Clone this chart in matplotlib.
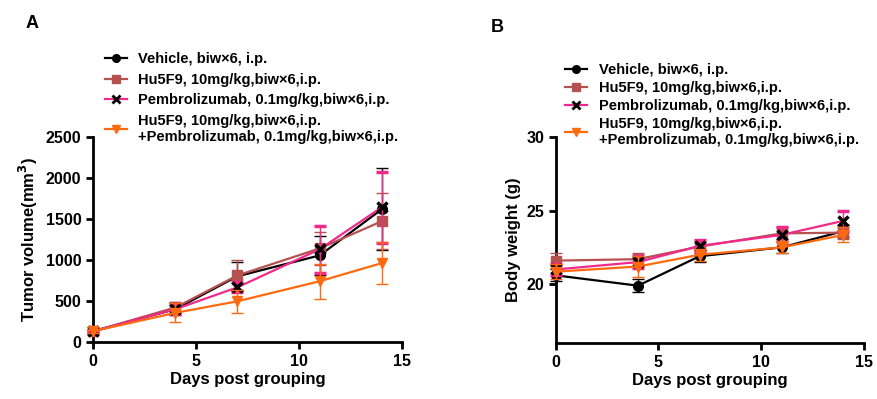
import matplotlib
matplotlib.use('Agg')
import matplotlib.pyplot as plt
from matplotlib.lines import Line2D

plt.rcParams['font.family'] = ['Liberation Sans', 'DejaVu Sans']
plt.rcParams['font.weight'] = 'bold'

days = [0, 4, 7, 11, 14]
labels = ['Vehicle, biw\u00d76, i.p.',
          'Hu5F9, 10mg/kg,biw\u00d76,i.p.',
          'Pembrolizumab, 0.1mg/kg,biw\u00d76,i.p.',
          'Hu5F9, 10mg/kg,biw\u00d76,i.p.\n+Pembrolizumab, 0.1mg/kg,biw\u00d76,i.p.']

# tumor volume (mm3), mean and error
tv_vehicle = [130, 400, 800, 1055, 1615]
tv_hu5f9 = [130, 420, 810, 1140, 1470]
tv_pembro = [130, 400, 665, 1130, 1640]
tv_combo = [130, 355, 495, 740, 960]
tv_vehicle_err = [20, 70, 170, 240, 500]
tv_hu5f9_err = [20, 70, 190, 200, 340]
tv_pembro_err = [20, 60, 60, 285, 430]
tv_combo_err = [20, 115, 140, 215, 255]

# body weight (g)
bw_vehicle = [20.6, 19.9, 21.9, 22.5, 23.6]
bw_hu5f9 = [21.6, 21.7, 22.55, 23.45, 23.5]
bw_pembro = [21.0, 21.5, 22.6, 23.35, 24.3]
bw_combo = [20.85, 21.2, 22.0, 22.5, 23.35]
bw_vehicle_err = [0.4, 0.45, 0.4, 0.4, 0.4]
bw_hu5f9_err = [0.5, 0.4, 0.4, 0.4, 0.4]
bw_pembro_err = [0.4, 0.4, 0.4, 0.5, 0.7]
bw_combo_err = [0.5, 0.7, 0.4, 0.4, 0.5]

colors = ['black', '#b5514f', '#f02a8a', '#ff6a10']
mcolors = ['black', '#b5514f', 'black', '#ff6a10']
markers = ['o', 's', 'x', 'v']
msizes = [7, 7, 7, 7]


def draw(ax, series, errs, anchor, spacing):
    for i, (y, e) in enumerate(zip(series, errs)):
        ax.errorbar(days, y, yerr=e, color=colors[i], ecolor=colors[i],
                    elinewidth=1.0, capsize=4, capthick=1.0,
                    lw=1.6, marker=markers[i], ms=msizes[i], mfc=mcolors[i],
                    mec=mcolors[i], mew=2.5 if markers[i] == 'x' else 1,
                    clip_on=False, zorder=3 + i)
    for s in ['top', 'right']:
        ax.spines[s].set_visible(False)
    for s in ['left', 'bottom']:
        ax.spines[s].set_linewidth(2)
    ax.tick_params(width=2, length=5, labelsize=11.5)
    ax.set_xlim(0, 15)
    ax.set_xticks([0, 5, 10, 15])
    ax.set_xlabel('Days post grouping', fontsize=12, fontweight='bold', labelpad=2)
    handles = [Line2D([], [], color=colors[i], lw=1.6, marker=markers[i],
                      ms=5.5, mfc=mcolors[i], mec=mcolors[i],
                      mew=2 if markers[i] == 'x' else 1) for i in range(4)]
    ax.legend(handles, labels, loc='lower left', bbox_to_anchor=anchor,
              frameon=False, fontsize=10.5, handlelength=1.5, borderaxespad=0,
              borderpad=0, labelspacing=spacing, handletextpad=0.8)


fig = plt.figure(figsize=(8.78, 3.99), dpi=100)
ax1 = fig.add_axes([0.106, 0.143, 0.352, 0.514])
ax2 = fig.add_axes([0.633, 0.140, 0.351, 0.517])

draw(ax1, [tv_vehicle, tv_hu5f9, tv_pembro, tv_combo],
     [tv_vehicle_err, tv_hu5f9_err, tv_pembro_err, tv_combo_err],
     (0.038, 0.965), 0.45)
ax1.set_ylim(0, 2500)
ax1.set_yticks([0, 500, 1000, 1500, 2000, 2500])
ax1.set_ylabel('Tumor volume(mm$^\\mathbf{3}$)', fontsize=12, fontweight='bold', labelpad=4)

draw(ax2, [bw_vehicle, bw_hu5f9, bw_pembro, bw_combo],
     [bw_vehicle_err, bw_hu5f9_err, bw_pembro_err, bw_combo_err],
     (0.03, 0.95), 0.28)
ax2.set_ylim(16, 30)
ax2.set_yticks([20, 25, 30])
ax2.set_ylabel('Body weight (g)', fontsize=12, fontweight='bold', labelpad=4)

fig.text(32 / 878, 1 - 23 / 399, 'A', fontsize=13, fontweight='bold', ha='center', va='center')
fig.text(497 / 878, 1 - 28 / 399, 'B', fontsize=13, fontweight='bold', ha='center', va='center')

fig.savefig('out.png', dpi=100)
